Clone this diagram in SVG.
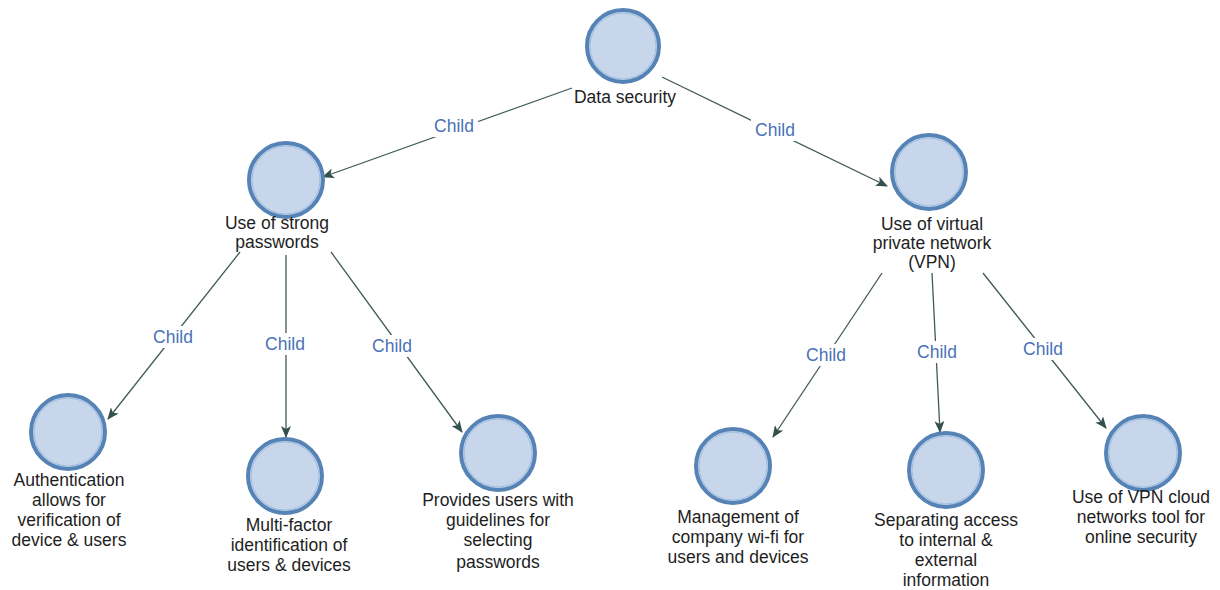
<svg xmlns="http://www.w3.org/2000/svg" width="1220" height="590" viewBox="0 0 1220 590">
<style>
.node circle{fill:#c7d6ea;stroke:#5683b6;stroke-width:4}
.node .ring{fill:none;stroke:#9cbde0;stroke-width:1}
.node text{font-family:"Liberation Sans",Arial,sans-serif;font-size:17.5px;fill:#1e1e1e;text-anchor:middle}
.edge line{stroke:#3f5a58;stroke-width:1.3;marker-end:url(#arr)}
.lbl{font-family:"Liberation Sans",Arial,sans-serif;font-size:17.5px;fill:#4a72b8;text-anchor:middle}
.lblbg{fill:#ffffff}
</style>
<defs>
<marker id="arr" viewBox="0 0 12 10" refX="11" refY="5" markerWidth="12" markerHeight="10" markerUnits="userSpaceOnUse" orient="auto">
<path d="M0,0 L12,5 L0,10 L3,5 Z" fill="#33504c"/>
</marker>
</defs>
<rect width="1220" height="590" fill="#ffffff"/>
<g id="connectors">
<g class="edge"><line x1="572" y1="88" x2="323" y2="177"/></g>
<g class="edge"><line x1="662" y1="77" x2="887" y2="186"/></g>
<g class="edge"><line x1="240" y1="252" x2="108" y2="419"/></g>
<g class="edge"><line x1="286" y1="255" x2="286" y2="437"/></g>
<g class="edge"><line x1="331" y1="252" x2="462" y2="432"/></g>
<g class="edge"><line x1="882" y1="273" x2="773" y2="437"/></g>
<g class="edge"><line x1="932" y1="273" x2="940" y2="432"/></g>
<g class="edge"><line x1="983" y1="273" x2="1106" y2="428"/></g>
<rect class="lblbg" x="430" y="115" width="48" height="22"/>
<text class="lbl" x="454" y="132">Child</text>
<rect class="lblbg" x="751" y="119" width="48" height="22"/>
<text class="lbl" x="775" y="136">Child</text>
<rect class="lblbg" x="149" y="326" width="48" height="22"/>
<text class="lbl" x="173" y="343">Child</text>
<rect class="lblbg" x="261" y="333" width="48" height="22"/>
<text class="lbl" x="285" y="350">Child</text>
<rect class="lblbg" x="368" y="335" width="48" height="22"/>
<text class="lbl" x="392" y="352">Child</text>
<rect class="lblbg" x="802" y="344" width="48" height="22"/>
<text class="lbl" x="826" y="361">Child</text>
<rect class="lblbg" x="913" y="341" width="48" height="22"/>
<text class="lbl" x="937" y="358">Child</text>
<rect class="lblbg" x="1019" y="338" width="48" height="22"/>
<text class="lbl" x="1043" y="355">Child</text>
</g>
<g id="n-root" class="node">
<circle cx="623" cy="46" r="36"/><circle class="ring" cx="623" cy="46" r="33"/>
<text x="625" y="103">Data security</text>
</g>
<g id="n-strong" class="node">
<circle cx="286" cy="180" r="37"/><circle class="ring" cx="286" cy="180" r="34"/>
<text x="277" y="229">Use of strong</text>
<text x="277" y="248">passwords</text>
</g>
<g id="n-vpn" class="node">
<circle cx="929" cy="172" r="37"/><circle class="ring" cx="929" cy="172" r="34"/>
<text x="932" y="230">Use of virtual</text>
<text x="932" y="249">private network</text>
<text x="932" y="268">(VPN)</text>
</g>
<g id="n-auth" class="node">
<circle cx="68" cy="432" r="37"/><circle class="ring" cx="68" cy="432" r="34"/>
<text x="69" y="486">Authentication</text>
<text x="69" y="506">allows for</text>
<text x="69" y="526">verification of</text>
<text x="69" y="546">device &amp; users</text>
</g>
<g id="n-multi" class="node">
<circle cx="285" cy="476" r="37"/><circle class="ring" cx="285" cy="476" r="34"/>
<text x="289" y="531">Multi-factor</text>
<text x="289" y="551">identification of</text>
<text x="289" y="571">users &amp; devices</text>
</g>
<g id="n-provides" class="node">
<circle cx="498" cy="453" r="37"/><circle class="ring" cx="498" cy="453" r="34"/>
<text x="498" y="506">Provides users with</text>
<text x="498" y="526">guidelines for</text>
<text x="498" y="546">selecting</text>
<text x="498" y="568">passwords</text>
</g>
<g id="n-mgmt" class="node">
<circle cx="733" cy="466" r="37"/><circle class="ring" cx="733" cy="466" r="34"/>
<text x="738" y="523">Management of</text>
<text x="738" y="543">company wi-fi  for</text>
<text x="738" y="563">users and devices</text>
</g>
<g id="n-sep" class="node">
<circle cx="946" cy="470" r="37"/><circle class="ring" cx="946" cy="470" r="34"/>
<text x="946" y="526">Separating access</text>
<text x="946" y="546">to internal &amp;</text>
<text x="946" y="566">external</text>
<text x="946" y="586">information</text>
</g>
<g id="n-cloud" class="node">
<circle cx="1143" cy="453" r="37"/><circle class="ring" cx="1143" cy="453" r="34"/>
<text x="1141" y="503">Use of VPN cloud</text>
<text x="1141" y="523">networks tool for</text>
<text x="1141" y="543">online security</text>
</g>
</svg>
